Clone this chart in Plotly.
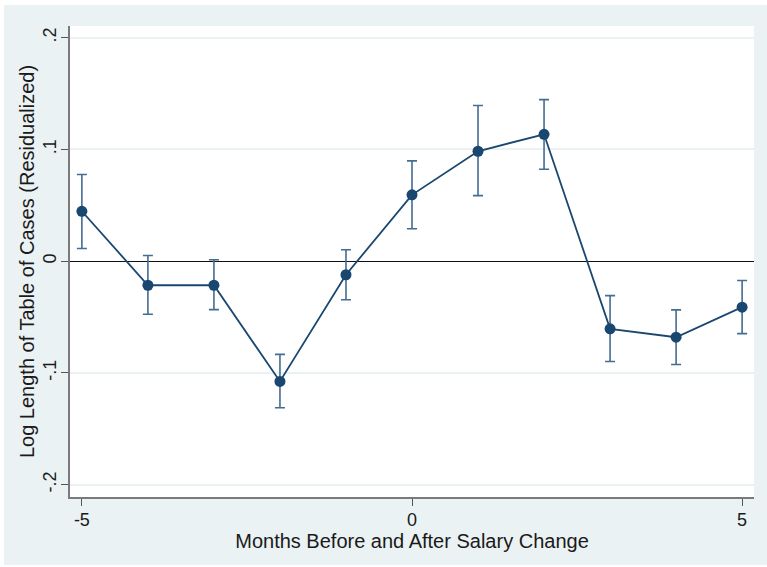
import plotly.graph_objects as go

# Event-time coefficients with 95% confidence bounds
months = [-5, -4, -3, -2, -1, 0, 1, 2, 3, 4, 5]
coef = [0.0447, -0.0215, -0.0215, -0.1076, -0.0121, 0.0594, 0.0984, 0.1136, -0.0605, -0.0680, -0.0411]
ci_upper = [0.0776, 0.0051, 0.0013, -0.0834, 0.0102, 0.0898, 0.1393, 0.1446, -0.0308, -0.0435, -0.0172]
ci_lower = [0.0114, -0.0474, -0.0433, -0.1311, -0.0345, 0.0290, 0.0587, 0.0823, -0.0897, -0.0924, -0.0648]

y_ticks = [-0.2, -0.1, 0, 0.1, 0.2]
y_ticktext = ["-.2", "-.1", "0", ".1", ".2"]
x_ticks = [-5, 0, 5]
x_ticktext = ["-5", "0", "5"]

NAVY = "#1A476F"
BAR = "#456C92"
BG = "#EAF2F3"
FONT = "Liberation Sans"

err_plus = [u - c for u, c in zip(ci_upper, coef)]
err_minus = [c - l for c, l in zip(coef, ci_lower)]

fig = go.Figure()
fig.add_trace(go.Scatter(
    x=months, y=coef,
    mode="lines+markers",
    line=dict(color=NAVY, width=1.8),
    marker=dict(color=NAVY, size=11, line=dict(width=0)),
    error_y=dict(type="data", symmetric=False, array=err_plus, arrayminus=err_minus,
                 color=BAR, thickness=1.6, width=5),
    showlegend=False,
))

W, H = 767, 567
L, R, T, B = 70, 13, 26, 70
pw, ph = W - L - R, H - T - B

def px_x(v):
    return (v - L) / pw

def px_y(v):
    return (H - B - v) / ph

# thin white frame around the graph region
shapes = [
    dict(type="rect", xref="paper", yref="paper", x0=px_x(0), x1=px_x(4), y0=px_y(H), y1=px_y(0),
         fillcolor="white", line=dict(width=0), layer="above"),
    dict(type="rect", xref="paper", yref="paper", x0=px_x(0), x1=px_x(W), y0=px_y(5), y1=px_y(0),
         fillcolor="white", line=dict(width=0), layer="above"),
    dict(type="rect", xref="paper", yref="paper", x0=px_x(0), x1=px_x(W), y0=px_y(H), y1=px_y(565),
         fillcolor="white", line=dict(width=0), layer="above"),
]

fig.update_layout(
    width=W, height=H,
    margin=dict(l=L, r=R, t=T, b=B),
    paper_bgcolor=BG,
    plot_bgcolor="white",
    font=dict(family=FONT, color="#1a1a1a", size=17),
    shapes=shapes,
    xaxis=dict(
        range=[-5.18, 5.18],
        tickvals=x_ticks, ticktext=x_ticktext,
        ticks="outside", ticklen=7, tickwidth=1.2, tickcolor="#555555",
        ticklabelstandoff=-2,
        showgrid=False, zeroline=False,
        showline=True, linecolor="#7a7a7a", linewidth=2,
        tickfont=dict(size=18),
        title=dict(text="Months Before and After Salary Change", font=dict(size=20), standoff=1),
    ),
    yaxis=dict(
        range=[-0.211, 0.2105],
        tickvals=y_ticks, ticktext=y_ticktext,
        tickangle=-90,
        ticks="outside", ticklen=7, tickwidth=1.2, tickcolor="#555555",
        ticklabelstandoff=-2,
        showgrid=True, gridcolor=BG, gridwidth=1.5,
        zeroline=True, zerolinecolor="#111111", zerolinewidth=1.2,
        showline=True, linecolor="#7a7a7a", linewidth=2,
        tickfont=dict(size=18),
        title=dict(text="Log Length of Table of Cases (Residualized)", font=dict(size=20), standoff=0),
    ),
)

fig.write_html("out.html")
